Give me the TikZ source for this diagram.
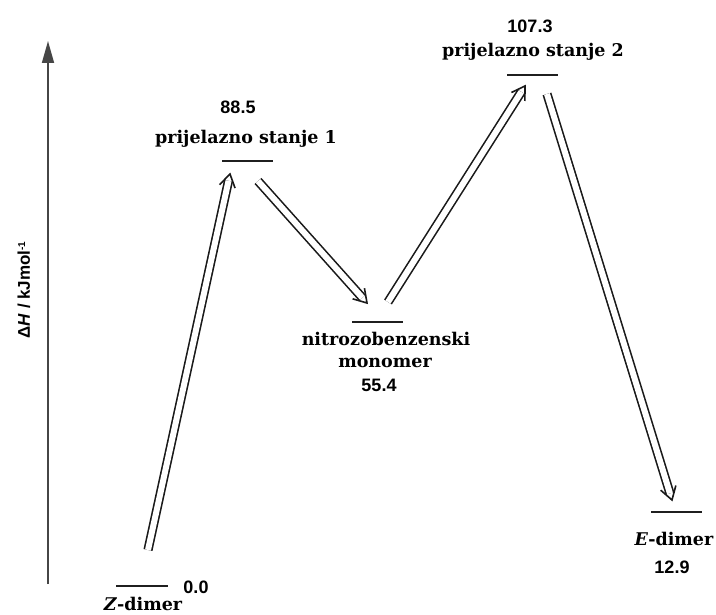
\documentclass[tikz,border=0pt]{standalone}
\usepackage{fontspec}
\setmainfont{DejaVu Serif}
\setsansfont{Liberation Sans}
\usetikzlibrary{arrows.meta,calc}
\definecolor{axisgray}{RGB}{70,70,70}
\newcommand\transarrow[2]{%
  \draw[trans] (#1) -- ($(#2)!7pt!(#1)$);
  \draw[chev] ($(#2)!15pt!32:(#1)$) -- (#2) -- ($(#2)!15pt!-32:(#1)$);
}
\begin{document}
\begin{tikzpicture}[x=1pt,y=-1pt,
 level/.style={line width=2.8pt, draw=black!88},
 trans/.style={double, double distance=6pt, line width=1.6pt, draw=black!90},
 chev/.style={line width=1.6pt, draw=black!90, line join=miter, line cap=butt},
 lab/.style={font=\fontsize{17.5}{20}\selectfont\bfseries, anchor=base, inner sep=0pt},
 num/.style={font=\sffamily\bfseries\fontsize{18}{21}\selectfont, anchor=base, inner sep=0pt},
]
\useasboundingbox (0,0) rectangle (716,615);
\fill[white] (0,0) rectangle (716,615);

% axis
\coordinate (axb) at (48,584);
\coordinate (axt) at (48,41);
\draw[axisgray, line width=1.6pt, -{Triangle[length=22pt,width=12pt]}] (axb) -- (axt);
\node[rotate=90, inner sep=0pt, font=\sffamily\bfseries\fontsize{17}{19}\selectfont] (ylab) at (24,290)
  {Δ\textit{H} / kJmol\raisebox{0.55ex}{\fontsize{10}{10}\selectfont -1}};

% levels
\coordinate (z1) at (116,586); \coordinate (z2) at (168,586);
\coordinate (t1a) at (222,161); \coordinate (t1b) at (273,161);
\coordinate (m1) at (352,322); \coordinate (m2) at (403,322);
\coordinate (t2a) at (507,75); \coordinate (t2b) at (558,75);
\coordinate (e1) at (651,512); \coordinate (e2) at (702,512);
\draw[level] (z1) -- (z2);
\draw[level] (t1a) -- (t1b);
\draw[level] (m1) -- (m2);
\draw[level] (t2a) -- (t2b);
\draw[level] (e1) -- (e2);

% labels
\node[num] (nz) at (196,593) {0.0};
\node[lab] (lz) at (143,610) {\textit{Z}-dimer};
\node[num] (n1) at (238,114) {88.5};
\node[lab] (l1) at (246,144) {prijelazno stanje 1};
\node[lab] (lm1) at (386,345) {nitrozobenzenski};
\node[lab] (lm2) at (385,367) {monomer};
\node[num] (nm) at (379,391) {55.4};
\node[num] (n2) at (530,33) {107.3};
\node[lab] (l2) at (533,57) {prijelazno stanje 2};
\node[lab] (le) at (674,545) {\textit{E}-dimer};
\node[num] (ne) at (672,573) {12.9};

% transitions
\coordinate (a1s) at (148,550); \coordinate (a1e) at (230,174);
\coordinate (a2s) at (258,181); \coordinate (a2e) at (367,303);
\coordinate (a3s) at (388,302); \coordinate (a3e) at (525,86);
\coordinate (a4s) at (547,94);  \coordinate (a4e) at (672,500);
\transarrow{a1s}{a1e}
\transarrow{a2s}{a2e}
\transarrow{a3s}{a3e}
\transarrow{a4s}{a4e}
\end{tikzpicture}
\end{document}
